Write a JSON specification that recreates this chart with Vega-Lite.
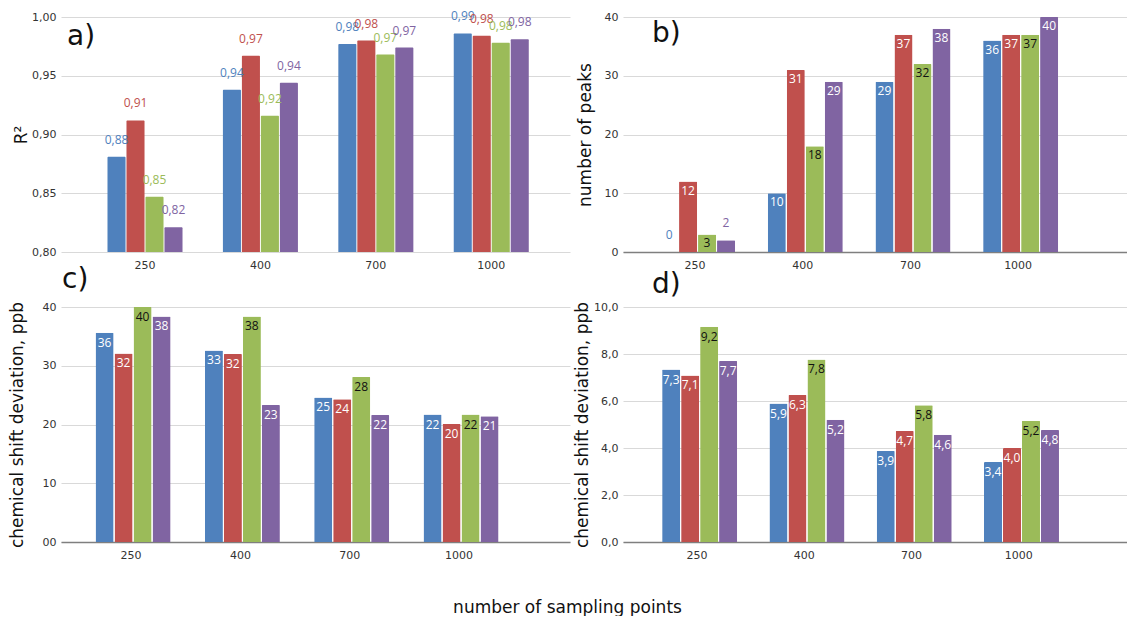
{
  "$schema": "https://vega.github.io/schema/vega-lite/v6.json",
  "autosize": {"type": "pad"},
  "padding": {"left": 8, "top": 10, "right": 0, "bottom": 0},
  "config": {
    "locale": {"number": {"decimal": ",", "thousands": ".", "grouping": [3], "currency": ["", " €"]}},
    "view": {"stroke": null},
    "font": "DejaVu Sans",
    "axis": {"labelFont": "DejaVu Sans", "labelFontSize": 11, "labelColor": "#333333", "titleFont": "DejaVu Sans", "titleFontSize": 17, "titleFontWeight": "normal", "titleColor": "#111111", "gridColor": "#d9d9d9", "gridWidth": 1, "ticks": false},
    "title": {"font": "DejaVu Sans", "fontSize": 28, "fontWeight": "normal", "color": "#111111"}
  },
  "title": {"text": "number of sampling points", "orient": "bottom", "anchor": "middle", "fontSize": 17, "offset": 40},
  "datasets": {
    "a": [
      {"n": "250", "s": "s1", "v": 0.881}, {"n": "250", "s": "s2", "v": 0.912}, {"n": "250", "s": "s3", "v": 0.847}, {"n": "250", "s": "s4", "v": 0.821},
      {"n": "400", "s": "s1", "v": 0.938}, {"n": "400", "s": "s2", "v": 0.967}, {"n": "400", "s": "s3", "v": 0.916}, {"n": "400", "s": "s4", "v": 0.944},
      {"n": "700", "s": "s1", "v": 0.977}, {"n": "700", "s": "s2", "v": 0.980}, {"n": "700", "s": "s3", "v": 0.968}, {"n": "700", "s": "s4", "v": 0.974},
      {"n": "1000", "s": "s1", "v": 0.986}, {"n": "1000", "s": "s2", "v": 0.984}, {"n": "1000", "s": "s3", "v": 0.978}, {"n": "1000", "s": "s4", "v": 0.981}
    ],
    "b": [
      {"n": "250", "s": "s1", "v": 0}, {"n": "250", "s": "s2", "v": 12}, {"n": "250", "s": "s3", "v": 3}, {"n": "250", "s": "s4", "v": 2},
      {"n": "400", "s": "s1", "v": 10}, {"n": "400", "s": "s2", "v": 31}, {"n": "400", "s": "s3", "v": 18}, {"n": "400", "s": "s4", "v": 29},
      {"n": "700", "s": "s1", "v": 29}, {"n": "700", "s": "s2", "v": 37}, {"n": "700", "s": "s3", "v": 32}, {"n": "700", "s": "s4", "v": 38},
      {"n": "1000", "s": "s1", "v": 36}, {"n": "1000", "s": "s2", "v": 37}, {"n": "1000", "s": "s3", "v": 37}, {"n": "1000", "s": "s4", "v": 40}
    ],
    "c": [
      {"n": "250", "s": "s1", "v": 35.6}, {"n": "250", "s": "s2", "v": 32.1}, {"n": "250", "s": "s3", "v": 40.0}, {"n": "250", "s": "s4", "v": 38.4},
      {"n": "400", "s": "s1", "v": 32.6}, {"n": "400", "s": "s2", "v": 32.0}, {"n": "400", "s": "s3", "v": 38.4}, {"n": "400", "s": "s4", "v": 23.3},
      {"n": "700", "s": "s1", "v": 24.6}, {"n": "700", "s": "s2", "v": 24.3}, {"n": "700", "s": "s3", "v": 28.1}, {"n": "700", "s": "s4", "v": 21.6},
      {"n": "1000", "s": "s1", "v": 21.7}, {"n": "1000", "s": "s2", "v": 20.1}, {"n": "1000", "s": "s3", "v": 21.7}, {"n": "1000", "s": "s4", "v": 21.4}
    ],
    "d": [
      {"n": "250", "s": "s1", "v": 7.34}, {"n": "250", "s": "s2", "v": 7.09}, {"n": "250", "s": "s3", "v": 9.16}, {"n": "250", "s": "s4", "v": 7.70},
      {"n": "400", "s": "s1", "v": 5.89}, {"n": "400", "s": "s2", "v": 6.26}, {"n": "400", "s": "s3", "v": 7.77}, {"n": "400", "s": "s4", "v": 5.20},
      {"n": "700", "s": "s1", "v": 3.87}, {"n": "700", "s": "s2", "v": 4.72}, {"n": "700", "s": "s3", "v": 5.82}, {"n": "700", "s": "s4", "v": 4.56},
      {"n": "1000", "s": "s1", "v": 3.40}, {"n": "1000", "s": "s2", "v": 4.00}, {"n": "1000", "s": "s3", "v": 5.16}, {"n": "1000", "s": "s4", "v": 4.77}
    ]
  },
  "columns": 2,
  "bounds": "flush",
  "spacing": {"row": 55, "column": 53},
  "concat": [
    {
      "width": 509, "height": 235,
      "data": {"name": "a"},
      "title": {"text": "a)", "anchor": "start", "frame": "group", "orient": "top", "offset": -41, "dx": 6},
      "encoding": {
        "x": {"field": "n", "type": "ordinal", "sort": ["250", "400", "700", "1000"], "scale": {"paddingInner": 0.35, "paddingOuter": 0.38, "align": 0.53}, "axis": {"title": null, "labelAngle": 0, "labelPadding": 7, "domain": false, "grid": false}},
        "xOffset": {"field": "s", "type": "nominal", "scale": {"paddingInner": 0.05}},
        "y": {"field": "v", "type": "quantitative", "scale": {"domain": [0.8, 1.0], "zero": false, "nice": false}, "axis": {"title": "R²", "values": [0.8, 0.85, 0.9, 0.95, 1.0], "format": ".2f", "domain": false, "labelPadding": 5, "titlePadding": 1}},
        "color": {"field": "s", "type": "nominal", "scale": {"domain": ["s1", "s2", "s3", "s4"], "range": ["#4f81bd", "#c0504d", "#9bbb59", "#8064a2"]}, "legend": null}
      },
      "layer": [
        {"mark": {"type": "bar", "cornerRadiusTopLeft": 1, "cornerRadiusTopRight": 1}, "encoding": {"y2": {"datum": 0.8}}},
        {"mark": {"type": "text", "font": "Open Sans", "fontSize": 12, "baseline": "bottom", "dy": -10}, "encoding": {"text": {"field": "v", "type": "quantitative", "format": ".2f"}}}
      ]
    },
    {
      "width": 504, "height": 235,
      "data": {"name": "b"},
      "title": {"text": "b)", "anchor": "start", "frame": "group", "orient": "top", "offset": -37, "dx": 29},
      "encoding": {
        "x": {"field": "n", "type": "ordinal", "sort": ["250", "400", "700", "1000"], "scale": {"paddingInner": 0.35, "paddingOuter": 0.515, "align": 0.334}, "axis": {"title": null, "labelAngle": 0, "labelPadding": 7, "domain": true, "domainColor": "#7f7f7f", "domainWidth": 1.5, "grid": false}},
        "xOffset": {"field": "s", "type": "nominal", "scale": {"paddingInner": 0.05}},
        "y": {"field": "v", "type": "quantitative", "scale": {"domain": [0, 40], "nice": false}, "axis": {"title": "number of peaks", "values": [0, 10, 20, 30, 40], "format": "d", "domain": false, "labelPadding": 5, "titlePadding": 10}},
        "color": {"field": "s", "type": "nominal", "scale": {"domain": ["s1", "s2", "s3", "s4"], "range": ["#4f81bd", "#c0504d", "#9bbb59", "#8064a2"]}, "legend": null}
      },
      "layer": [
        {"mark": {"type": "bar", "cornerRadiusTopLeft": 1, "cornerRadiusTopRight": 1}},
        {"transform": [{"filter": "datum.v >= 3"}], "mark": {"type": "text", "font": "Open Sans", "fontSize": 12, "baseline": "top", "dy": 4}, "encoding": {"text": {"field": "v", "type": "quantitative", "format": "d"}, "color": {"condition": {"test": "datum.s === 's3'", "value": "#111111"}, "value": "white"}}},
        {"transform": [{"filter": "datum.v < 3"}], "mark": {"type": "text", "font": "Open Sans", "fontSize": 12, "baseline": "bottom", "dy": -10}, "encoding": {"text": {"field": "v", "type": "quantitative", "format": "d"}}}
      ]
    },
    {
      "width": 509, "height": 235,
      "data": {"name": "c"},
      "title": {"text": "c)", "anchor": "start", "frame": "group", "orient": "top", "offset": 7, "dx": 1},
      "encoding": {
        "x": {"field": "n", "type": "ordinal", "sort": ["250", "400", "700", "1000"], "scale": {"paddingInner": 0.35, "paddingOuter": 0.503, "align": 0.314}, "axis": {"title": null, "labelAngle": 0, "labelPadding": 7, "domain": true, "domainColor": "#7f7f7f", "domainWidth": 1.5, "grid": false}},
        "xOffset": {"field": "s", "type": "nominal", "scale": {"paddingInner": 0.05}},
        "y": {"field": "v", "type": "quantitative", "scale": {"domain": [0, 40], "nice": false}, "axis": {"title": "chemical shift deviation, ppb", "values": [0, 10, 20, 30, 40], "format": "02d", "domain": false, "labelPadding": 5, "titlePadding": 16}},
        "color": {"field": "s", "type": "nominal", "scale": {"domain": ["s1", "s2", "s3", "s4"], "range": ["#4f81bd", "#c0504d", "#9bbb59", "#8064a2"]}, "legend": null}
      },
      "layer": [
        {"mark": {"type": "bar", "cornerRadiusTopLeft": 1, "cornerRadiusTopRight": 1}},
        {"mark": {"type": "text", "font": "Open Sans", "fontSize": 12, "baseline": "top", "dy": 5}, "encoding": {"text": {"field": "v", "type": "quantitative", "format": ".0f"}, "color": {"condition": {"test": "datum.s === 's3'", "value": "#111111"}, "value": "white"}}}
      ]
    },
    {
      "width": 504, "height": 235,
      "data": {"name": "d"},
      "title": {"text": "d)", "anchor": "start", "frame": "group", "orient": "top", "offset": 2, "dx": 29},
      "encoding": {
        "x": {"field": "n", "type": "ordinal", "sort": ["250", "400", "700", "1000"], "scale": {"paddingInner": 0.35, "paddingOuter": 0.524, "align": 0.348}, "axis": {"title": null, "labelAngle": 0, "labelPadding": 7, "domain": true, "domainColor": "#7f7f7f", "domainWidth": 1.5, "grid": false}},
        "xOffset": {"field": "s", "type": "nominal", "scale": {"paddingInner": 0.05}},
        "y": {"field": "v", "type": "quantitative", "scale": {"domain": [0, 10], "nice": false}, "axis": {"title": "chemical shift deviation, ppb", "values": [0, 2, 4, 6, 8, 10], "format": ".1f", "domain": false, "labelPadding": 5, "titlePadding": 2}},
        "color": {"field": "s", "type": "nominal", "scale": {"domain": ["s1", "s2", "s3", "s4"], "range": ["#4f81bd", "#c0504d", "#9bbb59", "#8064a2"]}, "legend": null}
      },
      "layer": [
        {"mark": {"type": "bar", "cornerRadiusTopLeft": 1, "cornerRadiusTopRight": 1}},
        {"mark": {"type": "text", "font": "Open Sans", "fontSize": 12, "baseline": "top", "dy": 5}, "encoding": {"text": {"field": "v", "type": "quantitative", "format": ".1f"}, "color": {"condition": {"test": "datum.s === 's3'", "value": "#111111"}, "value": "white"}}}
      ]
    }
  ]
}
